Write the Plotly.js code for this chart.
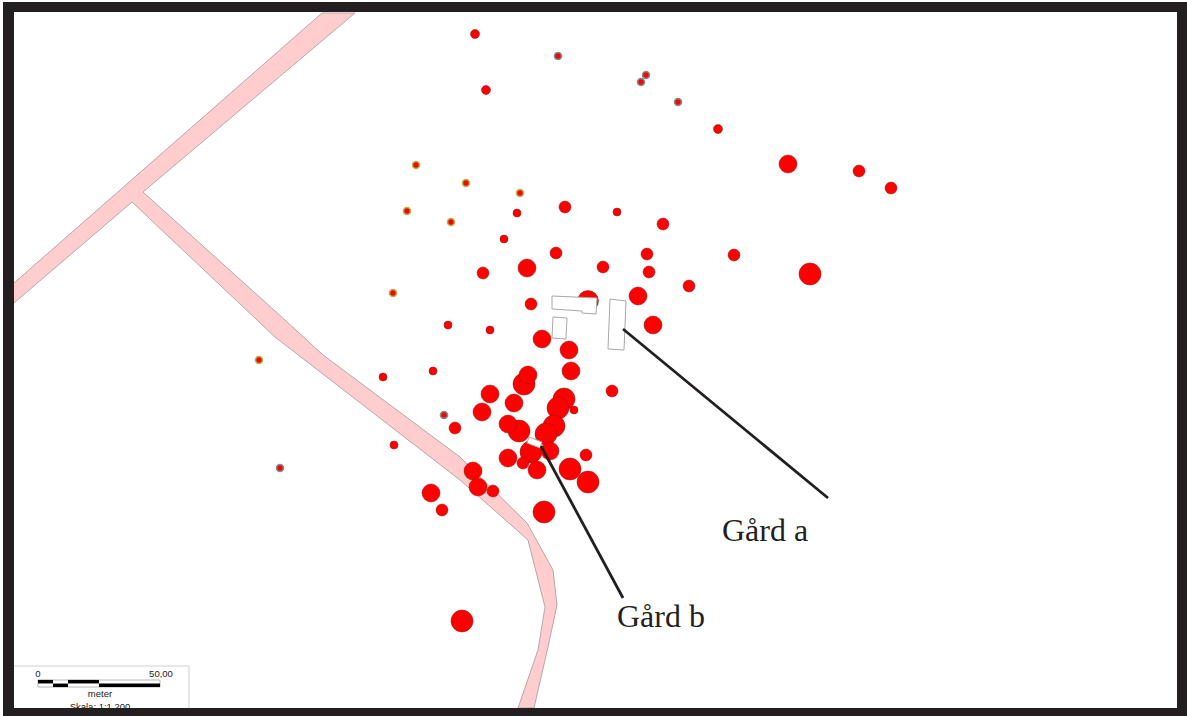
<!DOCTYPE html>
<html>
<head>
<meta charset="utf-8">
<script src="https://cdn.plot.ly/plotly-3.0.1.min.js"></script>
<style>html,body{margin:0;padding:0;background:#fff;overflow:hidden}#map{position:absolute;left:3px;top:2px;width:1184px;height:714px}</style>
</head>
<body>
<div id="map"></div>
<script>
var roadX = [14,322,355,143,285,323,460,527,553,557,548,534,518,538,545,528,460,275,132,14];
var roadY = [283,13,13,192,320,355,457,523,570,605,647,708,708,650,607,540,480,337,202,303];

var plainX = [475,486,718,788,859,891,565,517,617,663,504,556,647,734,527,603,649,483,810,689,588,531,638,653,448,490,542,569,571,433,383,612,524,528,490,514,564,558,574,482,455,519,508,554,546,394,586,531,550,508,523,537,570,588,473,478,493,431,442,544,462];
var plainY = [34,90,129,164,171,188,207,213,212,224,239,253,254,255,268,267,272,273,274,286,301,304,296,325,325,330,339,350,371,371,377,391,384,375,394,403,399,408,410,412,428,431,424,426,434,445,455,452,451,458,463,470,469,482,471,487,491,493,510,512,621];
var plainSize = [9,9,9,18,12,12,12,8,8,12,8,12,12,12,18,12,12,12,22,12,21,12,18,18,8,8,18,18,18,8,8,12,22,18,18,18,22,22,8,18,12,22,18,22,22,8,12,22,18,18,12,18,22,22,18,18,12,18,12,22,22];

var yellowX = [416,466,520,407,451,393,259];
var yellowY = [165,183,193,211,222,293,360];
var tealX = [558,646,641,678,444,280];
var tealY = [56,75,82,102,415,468];

var farmAX = [552,597,596,582,582,552,552];
var farmAY = [296,298,314,313,311,309,296];
var farmCX = [553,567,566,552,553];
var farmCY = [317,318,339,338,317];
var farmDX = [610,626,624,608,610];
var farmDY = [299,301,350,349,299];
var farmBX = [529,542,540,527,529];
var farmBY = [437,442,448,443,437];

var leaderAX = [623,828];
var leaderAY = [329,498];
var leaderBX = [541,623];
var leaderBY = [446,598];

var labelText = ["Gård a","Gård b"];
var labelX = [722,617];
var labelY = [533,619];

var scaleBoxX = [14,189,189];
var scaleBoxY = [666,666,708];
var barBlackTopX = [[38,53],[68,99]];
var barBlackLowX = [[53,68],[99,160]];
var barOutlineX = [38,160,160,38,38];
var barOutlineY = [680,680,687,687,680];
var scaleText = ["0","50,00","meter","Skala: 1:1 200"];
var scaleTextX = [38,161,100,100];
var scaleTextY = [675,675,695,708];

function outline(x,y,fill,line,w){
  return {type:'scatter',mode:'lines',x:x,y:y,fill:'toself',fillcolor:fill,line:{color:line,width:w},hoverinfo:'skip'};
}
function dots(x,y,size,lineColor,lineW){
  return {type:'scatter',mode:'markers',x:x,y:y,marker:{color:'#ff0000',opacity:1,size:size,line:{color:lineColor,width:lineW}},hoverinfo:'skip'};
}
function bar(xs,y){
  return {type:'scatter',mode:'lines',x:xs,y:[y,y],line:{color:'#000',width:3.5},hoverinfo:'skip'};
}

var traces = [
  outline(roadX,roadY,'#ffcdcd','#b5a8a8',1),
  dots(plainX,plainY,plainSize,'#8a1515',0.5),
  dots(yellowX,yellowY,7,'#b4b44a',1.6),
  dots(tealX,tealY,7,'#7c9094',1.6),
  outline(farmAX,farmAY,'#ffffff','#a8a8a8',1),
  outline(farmBX,farmBY,'#ffffff','#a8a8a8',1),
  outline(farmCX,farmCY,'#ffffff','#a8a8a8',1),
  outline(farmDX,farmDY,'#ffffff','#a8a8a8',1),
  {type:'scatter',mode:'lines',x:leaderAX,y:leaderAY,line:{color:'#231f20',width:2.8},hoverinfo:'skip'},
  {type:'scatter',mode:'lines',x:leaderBX,y:leaderBY,line:{color:'#231f20',width:2.8},hoverinfo:'skip'},
  {type:'scatter',mode:'text',x:labelX,y:labelY,text:labelText,textposition:'middle right',
   textfont:{family:'"Liberation Serif",serif',size:32,color:'#231f20'},hoverinfo:'skip'},
  {type:'scatter',mode:'lines',x:scaleBoxX,y:scaleBoxY,line:{color:'#d0d0d0',width:1},hoverinfo:'skip'},
  {type:'scatter',mode:'lines',x:barOutlineX,y:barOutlineY,line:{color:'#999',width:0.7},hoverinfo:'skip'},
  bar(barBlackTopX[0],681.7),bar(barBlackTopX[1],681.7),
  bar(barBlackLowX[0],685.3),bar(barBlackLowX[1],685.3),
  {type:'scatter',mode:'text',x:scaleTextX,y:scaleTextY,text:scaleText,textposition:'middle center',
   textfont:{family:'"Liberation Sans",Arial,sans-serif',size:9.5,color:'#222'},hoverinfo:'skip'}
];

var axisBase = {showgrid:false,zeroline:false,showticklabels:false,ticks:'',showline:false,fixedrange:true};
var layout = {
  width:1184,height:714,
  paper_bgcolor:'#231f20',plot_bgcolor:'#ffffff',
  margin:{l:11,r:10,t:10,b:8,pad:0},
  showlegend:false,
  xaxis:Object.assign({range:[14,1177]},axisBase),
  yaxis:Object.assign({range:[708,12]},axisBase)
};
Plotly.newPlot('map',traces,layout,{displayModeBar:false,staticPlot:true});
</script>
</body>
</html>
